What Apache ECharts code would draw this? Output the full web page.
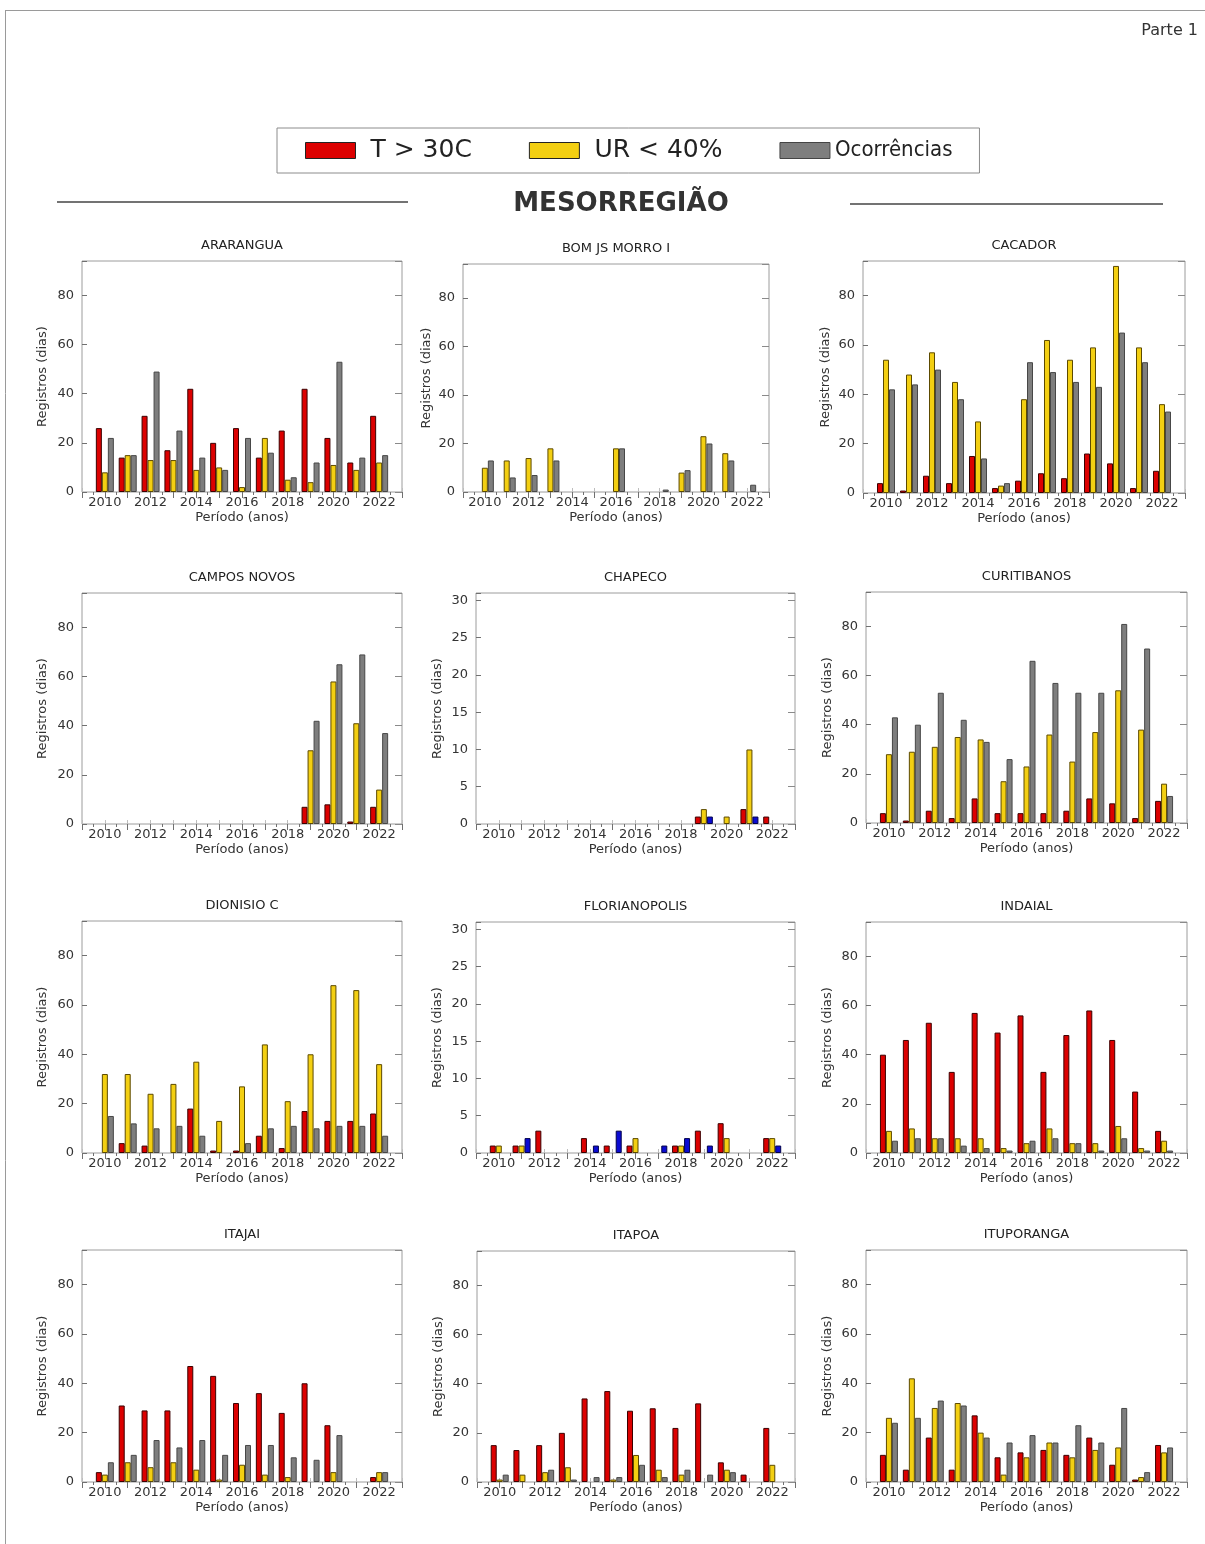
<!DOCTYPE html>
<html>
<head>
<meta charset="utf-8">
<script src="https://cdn.jsdelivr.net/npm/echarts/dist/echarts.min.js"></script>
<style>
  html, body { margin: 0; padding: 0; background: #ffffff; }
  #chart { width: 1205px; height: 1544px; }
</style>
</head>
<body>
<div id="chart"></div>
<script>
// ---------------- DATA ----------------
const years = [2010, 2011, 2012, 2013, 2014, 2015, 2016, 2017, 2018, 2019, 2020, 2021, 2022];
const yearTickLabels = [2010, 2012, 2014, 2016, 2018, 2020, 2022];
const seriesNames = ['T > 30C', 'UR < 40%', 'Ocorrências'];

const ararangua_t  = [26, 14, 31, 17, 42, 20, 26, 14, 25, 42, 22, 12, 31];
const ararangua_ur = [8, 15, 13, 13, 9, 10, 2, 22, 5, 4, 11, 9, 12];
const ararangua_oc = [22, 15, 49, 25, 14, 9, 22, 16, 6, 12, 53, 14, 15];

const bomjs_t  = [0, 0, 0, 0, 0, 0, 0, 0, 0, 0, 0, 0, 0];
const bomjs_ur = [10, 13, 14, 18, 0, 0, 18, 0, 0, 8, 23, 16, 0];
const bomjs_oc = [13, 6, 7, 13, 0, 0, 18, 0, 1, 9, 20, 13, 3];

const cacador_t  = [4, 1, 7, 4, 15, 2, 5, 8, 6, 16, 12, 2, 9];
const cacador_ur = [54, 48, 57, 45, 29, 3, 38, 62, 54, 59, 92, 59, 36];
const cacador_oc = [42, 44, 50, 38, 14, 4, 53, 49, 45, 43, 65, 53, 33];

const camposnovos_t  = [0, 0, 0, 0, 0, 0, 0, 0, 0, 7, 8, 1, 7];
const camposnovos_ur = [0, 0, 0, 0, 0, 0, 0, 0, 0, 30, 58, 41, 14];
const camposnovos_oc = [0, 0, 0, 0, 0, 0, 0, 0, 0, 42, 65, 69, 37];

const chapeco_t  = [0, 0, 0, 0, 0, 0, 0, 0, 0, 1, 0, 2, 1];
const chapeco_ur = [0, 0, 0, 0, 0, 0, 0, 0, 0, 2, 1, 10, 0];
const chapeco_oc = [0, 0, 0, 0, 0, 0, 0, 0, 0, 1, 0, 1, 0];

const curitibanos_t  = [4, 1, 5, 2, 10, 4, 4, 4, 5, 10, 8, 2, 9];
const curitibanos_ur = [28, 29, 31, 35, 34, 17, 23, 36, 25, 37, 54, 38, 16];
const curitibanos_oc = [43, 40, 53, 42, 33, 26, 66, 57, 53, 53, 81, 71, 11];

const dionisio_t  = [0, 4, 3, 0, 18, 1, 1, 7, 2, 17, 13, 13, 16];
const dionisio_ur = [32, 32, 24, 28, 37, 13, 27, 44, 21, 40, 68, 66, 36];
const dionisio_oc = [15, 12, 10, 11, 7, 0, 4, 10, 11, 10, 11, 11, 7];

const florianopolis_t  = [1, 1, 3, 0, 2, 1, 1, 0, 1, 3, 4, 0, 2];
const florianopolis_ur = [1, 1, 0, 0, 0, 0, 2, 0, 1, 0, 2, 0, 2];
const florianopolis_oc = [0, 2, 0, 0, 1, 3, 0, 1, 2, 1, 0, 0, 1];

const indaial_t  = [40, 46, 53, 33, 57, 49, 56, 33, 48, 58, 46, 25, 9];
const indaial_ur = [9, 10, 6, 6, 6, 2, 4, 10, 4, 4, 11, 2, 5];
const indaial_oc = [5, 6, 6, 3, 2, 1, 5, 6, 4, 1, 6, 1, 1];

const itajai_t  = [4, 31, 29, 29, 47, 43, 32, 36, 28, 40, 23, 0, 2];
const itajai_ur = [3, 8, 6, 8, 5, 1, 7, 3, 2, 0, 4, 0, 4];
const itajai_oc = [8, 11, 17, 14, 17, 11, 15, 15, 10, 9, 19, 0, 4];

const itapoa_t  = [15, 13, 15, 20, 34, 37, 29, 30, 22, 32, 8, 3, 22];
const itapoa_ur = [1, 3, 4, 6, 0, 1, 11, 5, 3, 0, 5, 0, 7];
const itapoa_oc = [3, 0, 5, 1, 2, 2, 7, 2, 5, 3, 4, 0, 0];

const ituporanga_t  = [11, 5, 18, 5, 27, 10, 12, 13, 11, 18, 7, 1, 15];
const ituporanga_ur = [26, 42, 30, 32, 20, 3, 10, 16, 10, 13, 14, 2, 12];
const ituporanga_oc = [24, 26, 33, 31, 18, 16, 19, 16, 23, 16, 30, 4, 14];

// ---------------- STYLE / LAYOUT ----------------
const RED = '#dc0000', YELLOW = '#f3cf12', GRAY = '#7e7e7e', BLUE = '#0b0bd2';
const BORDER = { red: '#3b0000', yellow: '#5c4a00', gray: '#474747', blue: '#00004a' };
const FONT = 'DejaVu Sans';
const TXT = '#333333';

const panels = [
  { name: 'ARARANGUA',     t: ararangua_t,     ur: ararangua_ur,     oc: ararangua_oc,     blue: false, yMax: 94, yStep: 20 },
  { name: 'BOM JS MORRO I', t: bomjs_t,        ur: bomjs_ur,         oc: bomjs_oc,         blue: false, yMax: 94, yStep: 20 },
  { name: 'CACADOR',       t: cacador_t,       ur: cacador_ur,       oc: cacador_oc,       blue: false, yMax: 94, yStep: 20 },
  { name: 'CAMPOS NOVOS',  t: camposnovos_t,   ur: camposnovos_ur,   oc: camposnovos_oc,   blue: false, yMax: 94, yStep: 20 },
  { name: 'CHAPECO',       t: chapeco_t,       ur: chapeco_ur,       oc: chapeco_oc,       blue: true,  yMax: 31, yStep: 5 },
  { name: 'CURITIBANOS',   t: curitibanos_t,   ur: curitibanos_ur,   oc: curitibanos_oc,   blue: false, yMax: 94, yStep: 20 },
  { name: 'DIONISIO C',    t: dionisio_t,      ur: dionisio_ur,      oc: dionisio_oc,      blue: false, yMax: 94, yStep: 20 },
  { name: 'FLORIANOPOLIS', t: florianopolis_t, ur: florianopolis_ur, oc: florianopolis_oc, blue: true,  yMax: 31, yStep: 5 },
  { name: 'INDAIAL',       t: indaial_t,       ur: indaial_ur,       oc: indaial_oc,       blue: false, yMax: 94, yStep: 20 },
  { name: 'ITAJAI',        t: itajai_t,        ur: itajai_ur,        oc: itajai_oc,        blue: false, yMax: 94, yStep: 20 },
  { name: 'ITAPOA',        t: itapoa_t,        ur: itapoa_ur,        oc: itapoa_oc,        blue: false, yMax: 94, yStep: 20 },
  { name: 'ITUPORANGA',    t: ituporanga_t,    ur: ituporanga_ur,    oc: ituporanga_oc,    blue: false, yMax: 94, yStep: 20 }
];

const cells = [
  { left: 82,  top: 261,  width: 320, height: 231, nameGap: 33 },
  { left: 463, top: 264,  width: 306, height: 228, nameGap: 30 },
  { left: 863, top: 261,  width: 322, height: 232, nameGap: 31 },
  { left: 82,  top: 593,  width: 320, height: 231, nameGap: 33 },
  { left: 476, top: 593,  width: 319, height: 231, nameGap: 32 },
  { left: 866, top: 592,  width: 321, height: 231, nameGap: 32 },
  { left: 82,  top: 921,  width: 320, height: 232, nameGap: 33 },
  { left: 476, top: 922,  width: 319, height: 231, nameGap: 32 },
  { left: 866, top: 922,  width: 321, height: 231, nameGap: 32 },
  { left: 82,  top: 1250, width: 320, height: 232, nameGap: 33 },
  { left: 477, top: 1251, width: 318, height: 231, nameGap: 32 },
  { left: 866, top: 1250, width: 321, height: 232, nameGap: 32 }
];

const grids = [], xAxes = [], yAxes = [], series = [], titles = [];

titles.push({
  text: 'Parte 1', right: 7, top: 23, padding: 0,
  textStyle: { fontFamily: FONT, fontSize: 16, fontWeight: 'normal', color: TXT }
});
titles.push({
  text: 'MESORREGIÃO', left: 621, top: 191, padding: 0, textAlign: 'center',
  textStyle: { fontFamily: FONT, fontSize: 26, fontWeight: 'bold', color: '#333' }
});

const labelStyle = { fontFamily: FONT, fontSize: 13, color: TXT };

panels.forEach((p, i) => {
  const c = cells[i];
  grids.push({
    left: c.left, top: c.top, width: c.width, height: c.height,
    show: true, borderColor: '#9c9c9c', borderWidth: 1, backgroundColor: '#ffffff'
  });
  titles.push({
    text: p.name, left: c.left + c.width / 2, top: c.top - 22, padding: 0, textAlign: 'center',
    textStyle: { fontFamily: FONT, fontSize: 13, fontWeight: 'normal', color: '#222' }
  });
  // bottom x axis (labels)
  xAxes.push({
    gridIndex: i, type: 'value', position: 'bottom', min: 2009, max: 2023, interval: 1,
    axisLine: { show: false }, splitLine: { show: false },
    axisTick: { show: true, inside: true, length: 4, lineStyle: { color: '#bdbdbd' } },
    axisLabel: {
      margin: 4, ...labelStyle,
      formatter: v => (yearTickLabels.indexOf(v) >= 0 ? String(v) : '')
    },
    name: 'Período (anos)', nameLocation: 'middle', nameGap: 19,
    nameTextStyle: { ...labelStyle }
  });
  // top x axis (ticks only)
  xAxes.push({
    gridIndex: i, type: 'value', position: 'top', min: 2009, max: 2023, interval: 1,
    axisLine: { show: false }, splitLine: { show: false }, axisLabel: { show: false },
    axisTick: { show: true, inside: true, length: 6, lineStyle: { color: '#707070' } },
    minorTick: { show: true, splitNumber: 2, length: 3, lineStyle: { color: '#707070' } }
  });
  // left y axis
  yAxes.push({
    gridIndex: i, type: 'value', position: 'left', min: 0, max: p.yMax, interval: p.yStep,
    axisLine: { show: false }, splitLine: { show: false },
    axisTick: { show: true, inside: true, length: 5, lineStyle: { color: '#707070' } },
    axisLabel: {
      margin: 8, ...labelStyle,
      formatter: v => (v % p.yStep === 0 ? String(v) : '')
    },
    name: 'Registros (dias)', nameLocation: 'middle', nameGap: c.nameGap, nameRotate: 90,
    nameTextStyle: { ...labelStyle }
  });
  // right y axis (ticks only)
  yAxes.push({
    gridIndex: i, type: 'value', position: 'right', min: 0, max: p.yMax, interval: p.yStep,
    axisLine: { show: false }, splitLine: { show: false }, axisLabel: { show: false },
    axisTick: { show: true, inside: true, length: 7, lineStyle: { color: '#8a8a8a' } }
  });

  const mk = arr => years.map((y, k) => [y, arr[k] === 0 ? null : arr[k]]);
  const common = { type: 'bar', xAxisIndex: 2 * i, yAxisIndex: 2 * i, barWidth: 6, barGap: '0%', animation: false };
  series.push({ ...common, name: seriesNames[0], data: mk(p.t),
    itemStyle: { color: RED, borderColor: BORDER.red, borderWidth: 1 } });
  series.push({ ...common, name: seriesNames[1], data: mk(p.ur),
    itemStyle: { color: YELLOW, borderColor: BORDER.yellow, borderWidth: 1 } });
  series.push({ ...common, name: p.blue ? 'Ocorrências (estação)' : seriesNames[2], data: mk(p.oc),
    itemStyle: p.blue ? { color: BLUE, borderColor: BORDER.blue, borderWidth: 1 }
                      : { color: GRAY, borderColor: BORDER.gray, borderWidth: 1 } });
});

const option = {
  backgroundColor: '#ffffff',
  animation: false,
  title: titles,
  legend: {
    left: 277, top: 128,
    orient: 'horizontal',
    padding: [10, 27, 10, 28],
    itemGap: 57,
    itemWidth: 50, itemHeight: 16,
    icon: 'rect',
    borderColor: '#8c8c8c', borderWidth: 1,
    selectedMode: false,
    textStyle: { fontFamily: FONT, fontSize: 25, color: '#222', padding: [0, 0, 0, 10] },
    data: [
      { name: 'T > 30C', icon: 'rect', itemStyle: { color: RED, borderColor: '#222', borderWidth: 1 } },
      { name: 'UR < 40%', icon: 'rect', itemStyle: { color: YELLOW, borderColor: '#222', borderWidth: 1 } },
      { name: 'Ocorrências', icon: 'rect', itemStyle: { color: GRAY, borderColor: '#444', borderWidth: 1 },
        textStyle: { fontFamily: 'DejaVu Sans Condensed', fontSize: 22, padding: [0, 0, 0, 0] } }
    ]
  },
  grid: grids,
  xAxis: xAxes,
  yAxis: yAxes,
  series: series,
  graphic: [
    { type: 'line', shape: { x1: 5, y1: 10.5, x2: 1205, y2: 10.5 }, style: { stroke: '#9a9a9a', lineWidth: 1 } },
    { type: 'line', shape: { x1: 5.5, y1: 10, x2: 5.5, y2: 1544 }, style: { stroke: '#9a9a9a', lineWidth: 1 } },
    { type: 'line', shape: { x1: 57, y1: 202, x2: 408, y2: 202 }, style: { stroke: '#444', lineWidth: 1.3 } },
    { type: 'line', shape: { x1: 850, y1: 204, x2: 1163, y2: 204 }, style: { stroke: '#444', lineWidth: 1.3 } }
  ]
};

const chart = echarts.init(document.getElementById('chart'), null, { renderer: 'canvas' });
chart.setOption(option);
</script>
</body>
</html>
